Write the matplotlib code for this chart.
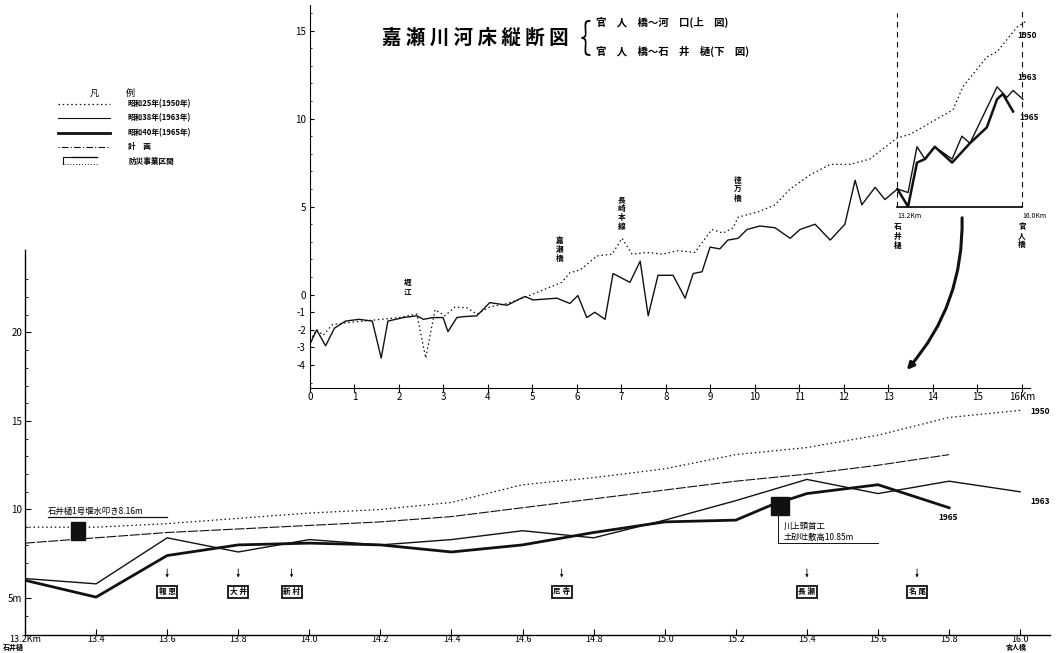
import matplotlib.pyplot as plt
import numpy as np
from matplotlib.patches import Rectangle, FancyArrowPatch

plt.rcParams['font.family'] = ['Noto Sans CJK JP', 'DejaVu Sans']

W, H = 1057, 653

# ---- lower chart: 石井樋 (13.2km) ~ 官人橋 (16.0km), bed level in m
low_km = [13.2, 13.4, 13.6, 13.8, 14.0, 14.2, 14.4, 14.6, 14.8, 15.0, 15.2, 15.4, 15.6, 15.8, 16.0]
low_1950 = [9.0, 9.0, 9.2, 9.5, 9.8, 10.0, 10.4, 11.4, 11.8, 12.3, 13.1, 13.5, 14.2, 15.2, 15.6]
low_1963 = [6.1, 5.8, 8.4, 7.6, 8.3, 8.0, 8.3, 8.8, 8.4, 9.4, 10.5, 11.7, 10.9, 11.6, 11.0]
low_1965_km = [13.2, 13.4, 13.6, 13.8, 14.0, 14.2, 14.4, 14.6, 14.8, 15.0, 15.2, 15.3, 15.4, 15.6, 15.8]
low_1965 = [6.0, 5.05, 7.4, 8.0, 8.1, 8.0, 7.6, 8.0, 8.7, 9.3, 9.4, 10.25, 10.9, 11.4, 10.1]
plan_km = low_km[:-1]
plan = [8.1, 8.4, 8.7, 8.9, 9.1, 9.3, 9.6, 10.1, 10.6, 11.1, 11.6, 12.0, 12.5, 13.1]

# ---- upper chart: 河口 (0km) ~ 官人橋 (16km)
up_1950_km = [0.0, 0.15, 0.3, 0.5, 0.8, 1.2, 1.6, 2.0, 2.4, 2.6, 2.81, 3.03, 3.26, 3.53, 3.75,
              4.04, 4.43, 4.88, 5.66, 5.84, 6.07, 6.45, 6.79, 7.01, 7.24, 7.57, 7.93, 8.25,
              8.65, 9.03, 9.28, 9.51, 9.62, 10.07, 10.45, 10.79, 11.24, 11.69, 12.13, 12.58,
              13.19, 13.48, 14.45, 14.67, 15.21, 15.44, 15.89, 16.07]
up_1950 = [-2.6, -2.0, -2.3, -1.7, -1.6, -1.5, -1.4, -1.3, -1.1, -3.6, -0.85, -1.2, -0.7, -0.75, -1.1,
           -0.7, -0.5, -0.1, 0.7, 1.25, 1.4, 2.2, 2.3, 3.2, 2.3, 2.4, 2.3, 2.5,
           2.4, 3.7, 3.5, 3.8, 4.4, 4.7, 5.1, 6.0, 6.8, 7.4, 7.4, 7.7,
           8.9, 9.1, 10.5, 11.8, 13.5, 13.8, 15.2, 15.5]
up_1963_km = [0.0, 0.15, 0.35, 0.55, 0.8, 1.1, 1.4, 1.6, 1.75, 2.1, 2.4, 2.55, 2.76, 2.99, 3.1,
              3.3, 3.44, 3.75, 4.04, 4.43, 4.83, 5.01, 5.55, 5.84, 6.02, 6.22, 6.4, 6.63,
              6.81, 7.19, 7.42, 7.6, 7.82, 8.16, 8.43, 8.61, 8.81, 8.99, 9.21, 9.39, 9.62,
              9.82, 10.11, 10.45, 10.79, 11.01, 11.35, 11.69, 12.02, 12.25, 12.4, 12.7,
              12.92, 13.2, 13.44, 13.64, 13.82, 14.04, 14.43, 14.65, 14.83, 15.44, 15.66,
              15.8, 16.02]
up_1963 = [-2.8, -2.0, -2.9, -1.9, -1.5, -1.4, -1.5, -3.6, -1.5, -1.3, -1.2, -1.4, -1.3, -1.3, -2.1,
           -1.3, -1.25, -1.2, -0.45, -0.6, -0.1, -0.3, -0.2, -0.5, -0.05, -1.3, -1.0, -1.4,
           1.2, 0.7, 1.9, -1.2, 1.1, 1.1, -0.2, 1.2, 1.3, 2.7, 2.6, 3.1, 3.2,
           3.7, 3.9, 3.8, 3.2, 3.7, 4.0, 3.1, 4.0, 6.5, 5.1, 6.1,
           5.4, 6.0, 5.8, 8.4, 7.7, 8.4, 7.7, 9.0, 8.6, 11.8, 11.2,
           11.6, 11.1]
up_1965_km = [13.2, 13.44, 13.64, 13.82, 14.04, 14.43, 14.83, 15.21, 15.44, 15.57, 15.8]
up_1965 = [6.0, 5.0, 7.5, 7.7, 8.4, 7.5, 8.6, 9.5, 11.1, 11.4, 10.4]

landmark_km = [2.2, 5.6, 7.0, 9.6]
landmark_names = ['堀江', '嘉瀬橋', '長崎本線', '徳万橋']

gate_km = [13.60, 13.80, 13.95, 14.71, 15.40, 15.71]
gate_names = ['報恩', '大井', '新村', '尼寺', '長瀬', '名尾']

fig = plt.figure(figsize=(W / 100, H / 100), dpi=100)


def fx(px):
    return px / W


def fy(py):
    return 1 - py / H


BLK = '#111111'

# ================= lower chart =================
ax = fig.add_axes([fx(25), fy(635), fx(1050) - fx(25), fy(250) - fy(635)])
ax.set_xlim(13.2, 16.084)
ax.set_ylim(2.91, 24.66)
ax.plot(low_km, low_1950, color=BLK, lw=0.9, ls=(0, (1.2, 2.2)))
ax.plot(plan_km, plan, color=BLK, lw=0.8, ls=(0, (9, 1.5)))
ax.plot(low_km, low_1963, color=BLK, lw=1.0)
ax.plot(low_1965_km, low_1965, color=BLK, lw=2.0)

for s in ['top', 'right']:
    ax.spines[s].set_visible(False)
for s in ['left', 'bottom']:
    ax.spines[s].set_linewidth(1.0)
ax.set_xticks(low_km)
ax.set_xticklabels(['13.2Km'] + [f'{k:.1f}' for k in low_km[1:]], fontsize=6.5)
ax.set_yticks([5, 10, 15, 20])
ax.set_yticklabels(['5m', '10', '15', '20'], fontsize=7)
ax.set_yticks(np.arange(4, 24, 1), minor=True)
ax.tick_params(axis='both', direction='in', length=4, width=0.8, pad=2)
ax.tick_params(axis='x', pad=0)
ax.tick_params(axis='y', which='minor', direction='in', length=2, width=0.6)

fig.text(fx(3), fy(647), '石井樋', fontsize=5, ha='left', va='center', fontweight='bold')
fig.text(fx(1016), fy(647), '官人橋', fontsize=5, ha='center', va='center', fontweight='bold')

# weirs
ax.add_patch(Rectangle((13.33, 8.3), 0.04, 1.0, color=BLK))
ax.add_patch(Rectangle((15.30, 9.7), 0.05, 1.0, color=BLK))
ax.text(13.265, 9.65, '石井樋1号堰水叩き8.16m', fontsize=6, va='bottom', ha='left')
ax.plot([13.265, 13.6], [9.6, 9.6], color=BLK, lw=0.9)
ax.plot([15.32, 15.32, 15.6], [9.7, 8.1, 8.1], color=BLK, lw=0.7)
ax.text(15.335, 8.8, '川上頭首工', fontsize=6, va='bottom')
ax.text(15.335, 8.15, '土砂吐敷高10.85m', fontsize=6, va='bottom')

ax.text(16.03, 15.4, '1950', fontsize=6, style='italic', fontweight='bold')
ax.text(16.03, 10.3, '1963', fontsize=6, style='italic', fontweight='bold')
ax.text(15.77, 9.4, '1965', fontsize=6, style='italic', fontweight='bold')

for k, nm in zip(gate_km, gate_names):
    ax.annotate('', xy=(k, 6.0), xytext=(k, 6.8),
                arrowprops=dict(arrowstyle='-|>', lw=0.6, color=BLK, mutation_scale=4))
    ax.text(k, 5.35, ' '.join(nm), fontsize=5.5, ha='center', va='center', fontweight='bold',
            bbox=dict(boxstyle='square,pad=0.2', fc='white', ec=BLK, lw=1.3))

# ================= upper chart =================
ax2 = fig.add_axes([fx(310), fy(388), fx(1030) - fx(310), fy(5) - fy(388)])
ax2.set_facecolor('none')
ax2.set_xlim(0, 16.18)
ax2.set_ylim(-5.3, 16.45)
ax2.plot(up_1950_km, up_1950, color=BLK, lw=0.9, ls=(0, (1.2, 2.2)))
ax2.plot(up_1963_km, up_1963, color=BLK, lw=1.0)
ax2.plot(up_1965_km, up_1965, color=BLK, lw=1.8)
ax2.plot([13.2, 16.0], [5, 5], color=BLK, lw=1.3)
ax2.plot([13.2, 13.2], [5, 16.0], color=BLK, lw=0.8, ls=(0, (5, 4)))
ax2.plot([16.0, 16.0], [5, 16.2], color=BLK, lw=0.8, ls=(0, (5, 4)))

for s in ['top', 'right']:
    ax2.spines[s].set_visible(False)
ax2.set_xticks(range(17))
ax2.set_xticklabels([str(i) for i in range(16)] + ['16Km'], fontsize=7)
ax2.set_yticks([-4, -3, -2, -1, 0, 5, 10, 15])
ax2.set_yticklabels(['-4', '-3', '-2', '-1', '0', '5', '10', '15'], fontsize=7)
ax2.set_yticks(np.arange(-5, 17, 1), minor=True)
ax2.tick_params(axis='x', direction='inout', length=6, width=0.8, pad=0)
ax2.tick_params(axis='y', direction='in', length=3, width=0.8, pad=3)
ax2.tick_params(axis='y', which='minor', direction='in', length=1.5, width=0.6)

landmark_y = [-0.1, 1.8, 3.6, 5.2]
for k, nm, yy in zip(landmark_km, landmark_names, landmark_y):
    ax2.text(k, yy, '\n'.join(nm), fontsize=5.5, ha='center', va='bottom', fontweight='bold',
             linespacing=1.0)

ax2.text(13.2, 4.7, '13.2Km', fontsize=5, ha='left', va='top')
ax2.text(13.2, 4.1, '石\n井\n樋', fontsize=5.5, ha='center', va='top', linespacing=1.0, fontweight='bold')
ax2.text(16.0, 4.7, '16.0Km', fontsize=5, ha='left', va='top')
ax2.text(16.0, 4.1, '官\n人\n橋', fontsize=5.5, ha='center', va='top', linespacing=1.0, fontweight='bold')
ax2.text(15.9, 14.6, '1950', fontsize=6, style='italic', fontweight='bold')
ax2.text(15.9, 12.2, '1963', fontsize=6, style='italic', fontweight='bold')
ax2.text(15.95, 9.9, '1965', fontsize=6, style='italic', fontweight='bold')

arr = FancyArrowPatch((fx(962), fy(215)), (fx(905), fy(372)), transform=fig.transFigure,
                      connectionstyle='arc3,rad=-0.2', arrowstyle='-|>', mutation_scale=10,
                      lw=2.2, color=BLK)
fig.patches.append(arr)

# ================= title =================
fig.text(fx(475), fy(38), '嘉 瀬 川 河 床 縦 断 図', fontsize=14, fontweight='bold',
         ha='center', va='center')
fig.text(fx(580), fy(37), '{', fontsize=26, ha='left', va='center', fontweight='light')
fig.text(fx(596), fy(22), '官　人　橋〜河　口(上　図)', fontsize=7.5, fontweight='bold', va='center')
fig.text(fx(596), fy(51), '官　人　橋〜石　井　樋(下　図)', fontsize=7.5, fontweight='bold', va='center')

# ================= legend =================
fig.text(fx(112), fy(93), '凡　　　例', fontsize=6.5, ha='center', va='center')
leg_txt = ['昭和25年(1950年)', '昭和38年(1963年)', '昭和40年(1965年)', '計　画', '防災事業区間']
leg_y = [104, 118, 133, 147, 161]
leg_style = [dict(lw=0.9, ls=(0, (1.2, 2.2))), dict(lw=0.8, ls='-'), dict(lw=2.0, ls='-'),
             dict(lw=0.8, ls=(0, (1, 2, 6, 2)))]
for yy, st in zip(leg_y[:4], leg_style):
    fig.add_artist(plt.Line2D([fx(58), fx(110)], [fy(yy), fy(yy)], color=BLK, **st))
fig.add_artist(plt.Line2D([fx(63), fx(63), fx(72)], [fy(164), fy(157), fy(157)], color=BLK, lw=0.8))
fig.add_artist(plt.Line2D([fx(64), fx(97)], [fy(164), fy(164)], color=BLK, lw=0.7, ls=(0, (1, 2))))
fig.add_artist(plt.Line2D([fx(72), fx(97)], [fy(157), fy(157)], color=BLK, lw=1.0))
for yy, t in zip(leg_y, leg_txt):
    fig.text(fx(128), fy(yy), t, fontsize=5.5, va='center', fontweight='bold')

fig.savefig('out.png', dpi=100)
